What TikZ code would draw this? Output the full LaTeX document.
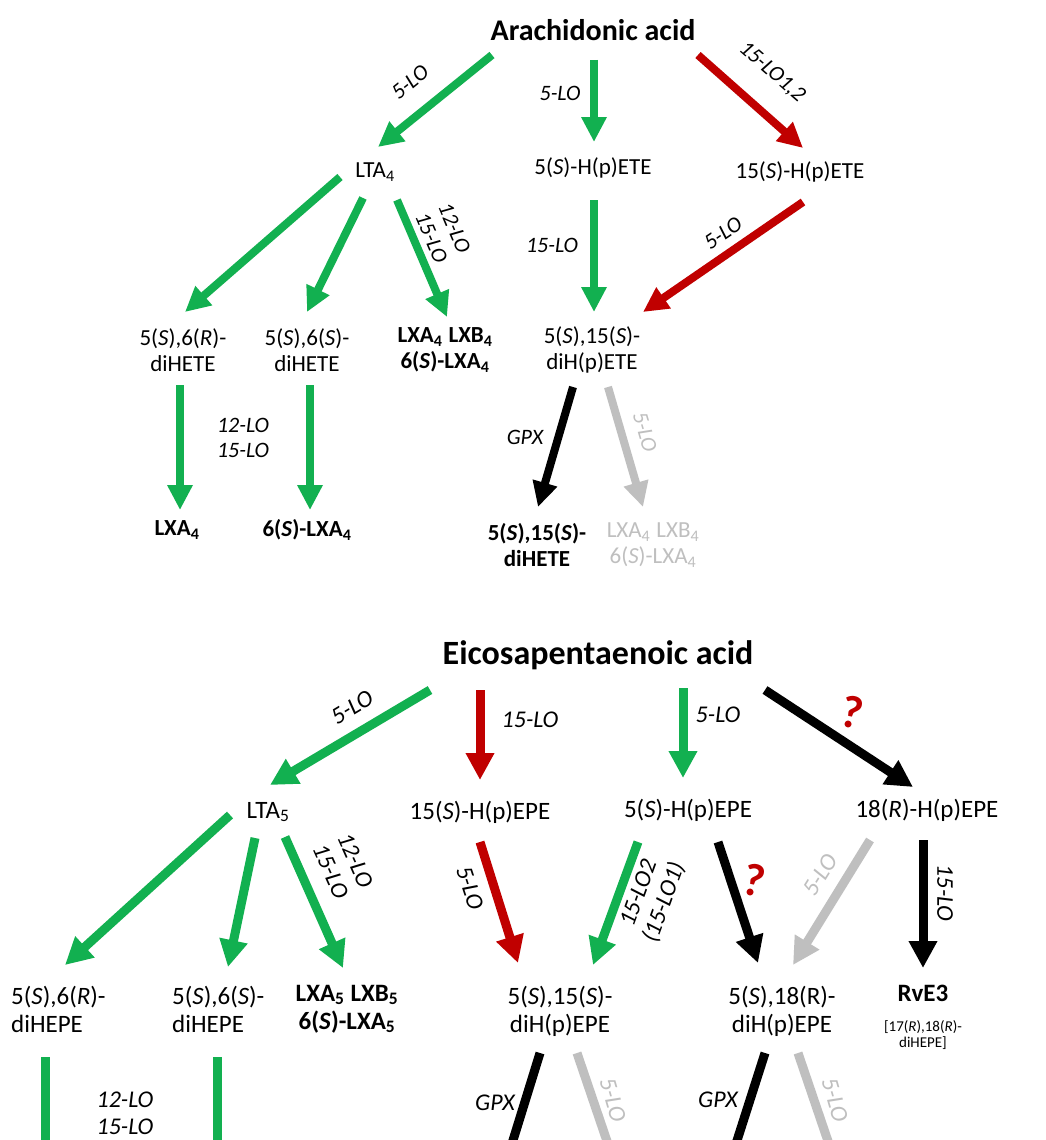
\documentclass[tikz,border=0pt]{standalone}
\usepackage{fontspec}
\setmainfont{Carlito}
\usetikzlibrary{arrows.meta}
\definecolor{lgreen}{RGB}{18,176,80}
\definecolor{lred}{RGB}{192,0,0}
\definecolor{lgray}{RGB}{191,191,191}
\begin{document}
\begin{tikzpicture}[x=1pt,y=-1pt,
  nd/.style={font=\fontsize{23}{26}\selectfont, align=center, inner sep=0pt},
  ndb/.style={font=\fontsize{23}{26}\selectfont\bfseries, align=center, inner sep=0pt},
  nde/.style={font=\fontsize{25}{28}\selectfont, align=center, inner sep=0pt},
  ndeb/.style={font=\fontsize{25}{28}\selectfont\bfseries, align=center, inner sep=0pt},
  lbl/.style={font=\fontsize{22}{25}\selectfont\itshape, align=center, inner sep=0pt},
  lble/.style={font=\fontsize{24}{27}\selectfont\itshape, align=center, inner sep=0pt},
  qm/.style={font=\fontsize{46}{46}\selectfont\bfseries, text=lred, inner sep=0pt},
  arr/.style={line width=8pt, -{Triangle[width=24pt,length=25pt]}},
  arre/.style={line width=9pt, -{Triangle[width=27pt,length=27pt]}},
  ln/.style={line width=9pt},
  grn/.style={draw=lgreen, color=lgreen},
  rd/.style={draw=lred, color=lred},
  blk/.style={draw=black, color=black},
  gry/.style={draw=lgray, color=lgray}]
\path[use as bounding box] (0,0) rectangle (1045,1140);
\clip (0,0) rectangle (1045,1140);
\fill[white] (0,0) rectangle (1045,1140);

% ---------------- top: arachidonic acid ----------------
\node[font=\fontsize{30}{32}\selectfont\bfseries, inner sep=0pt] (aa) at (593,30) {Arachidonic acid};
\node[nd] (lta4) at (375,172) {LTA\textsubscript{4}};
\node[nd] (hpete5) at (593,168) {5(\textit{S})-H(p)ETE};
\node[nd] (hpete15) at (800,172) {15(\textit{S})-H(p)ETE};
\node[nd] (r6) at (183,350) {5(\textit{S}),6(\textit{R})-\\diHETE};
\node[nd] (s6) at (307,350) {5(\textit{S}),6(\textit{S})-\\diHETE};
\node[ndb] (lx4) at (445,350) {LXA\textsubscript{4}\hspace{6pt}LXB\textsubscript{4}\\6(\textit{S})-LXA\textsubscript{4}};
\node[nd] (di515) at (592,350) {5(\textit{S}),15(\textit{S})-\\diH(p)ETE};
\node[ndb] (lxa4) at (177,530) {LXA\textsubscript{4}};
\node[ndb] (slxa4) at (307,530) {6(\textit{S})-LXA\textsubscript{4}};
\node[ndb] (di515h) at (537,545) {5(\textit{S}),15(\textit{S})-\\diHETE};
\node[nd, text=lgray] (lx4g) at (653,545) {LXA\textsubscript{4}\hspace{6pt}LXB\textsubscript{4}\\6(\textit{S})-LXA\textsubscript{4}};

\draw[arr,grn] ([shift={(-101,25)}]aa.center) -- ([shift={(3,-25)}]lta4.center);
\draw[arr,grn] ([shift={(1,30)}]aa.center) -- ([shift={(1,-26)}]hpete5.center);
\draw[arr,rd] ([shift={(105,25)}]aa.center) -- ([shift={(3,-24)}]hpete15.center);
\draw[arr,grn] ([shift={(1,32)}]hpete5.center) -- ([shift={(2,-38)}]di515.center);
\draw[arr,rd] ([shift={(3,30)}]hpete15.center) -- ([shift={(51,-38)}]di515.center);
\draw[arr,grn] ([shift={(-35,5)}]lta4.center) -- ([shift={(2,-38)}]r6.center);
\draw[arr,grn] ([shift={(-12,26)}]lta4.center) -- ([shift={(0,-38)}]s6.center);
\draw[arr,grn] ([shift={(22,28)}]lta4.center) -- ([shift={(2,-33)}]lx4.center);
\draw[arr,grn] ([shift={(-3,35)}]r6.center) -- ([shift={(3,-20)}]lxa4.center);
\draw[arr,grn] ([shift={(3,35)}]s6.center) -- ([shift={(3,-20)}]slxa4.center);
\draw[arr,blk] ([shift={(-19,37)}]di515.center) -- ([shift={(1,-38)}]di515h.center);
\draw[arr,gry] ([shift={(16,37)}]di515.center) -- ([shift={(-10,-38)}]lx4g.center);

\node[lbl, rotate=39] (l1) at (410,82) {5-LO};
\node[lbl] (l2) at (560,93) {5-LO};
\node[lbl, rotate=-41] (l3) at (772,72) {15-LO1,2};
\node[lbl] (l4) at (552,245) {15-LO};
\node[lbl, rotate=34] (l5) at (723,233) {5-LO};
\node[lbl, rotate=-67] (l6) at (443,233) {12-LO\\15-LO};
\node[lbl] (l7) at (243,438) {12-LO\\15-LO};
\node[lbl] (l8) at (525,437) {GPX};
\node[lbl, rotate=-74, text=lgray] (l9) at (645,432) {5-LO};

% ---------------- bottom: eicosapentaenoic acid ----------------
\node[font=\fontsize{34}{36}\selectfont\bfseries, inner sep=0pt] (epa) at (598,655) {Eicosapentaenoic acid};
\node[nde] (lta5) at (268,812) {LTA\textsubscript{5}};
\node[nde] (hpepe15) at (480,812) {15(\textit{S})-H(p)EPE};
\node[nde] (hpepe5) at (688,810) {5(\textit{S})-H(p)EPE};
\node[nde] (hpepe18) at (927,810) {18(\textit{R})-H(p)EPE};
\node[nde, align=left, anchor=west] (r6e) at (11,1009) {5(\textit{S}),6(\textit{R})-\\diHEPE};
\node[nde, align=left, anchor=west] (s6e) at (172,1009) {5(\textit{S}),6(\textit{S})-\\diHEPE};
\node[ndeb] (lx5) at (347,1009) {LXA\textsubscript{5}\hspace{6pt}LXB\textsubscript{5}\\6(\textit{S})-LXA\textsubscript{5}};
\node[nde] (di515e) at (560,1011) {5(\textit{S}),15(\textit{S})-\\diH(p)EPE};
\node[nde] (di518e) at (782,1011) {5(\textit{S}),18(R)-\\diH(p)EPE};
\node[ndeb] (rve3) at (923,993) {RvE3};
\node[font=\fontsize{15}{16}\selectfont, align=center, inner sep=0pt] (rve3s) at (923,1035) {[17(\textit{R}),18(\textit{R})-\\diHEPE]};

\coordinate (e1) at (45,1150);
\coordinate (e2) at (217,1150);
\coordinate (e3) at (510,1150);
\coordinate (e4) at (610,1150);
\coordinate (e5) at (734,1150);
\coordinate (e6) at (831,1150);

\draw[arre,grn] ([shift={(-168,35)}]epa.center) -- ([shift={(2,-27)}]lta5.center);
\draw[arre,rd] ([shift={(-118,35)}]epa.center) -- ([shift={(0,-32)}]hpepe15.center);
\draw[arre,grn] ([shift={(85,33)}]epa.center) -- ([shift={(-5,-32)}]hpepe5.center);
\draw[arre,blk] ([shift={(167,35)}]epa.center) -- ([shift={(-14,-23)}]hpepe18.center);
\draw[arre,grn] ([shift={(-38,3)}]lta5.center) -- ([shift={(54,-44)}]r6e.west);
\draw[arre,grn] ([shift={(-13,26)}]lta5.center) -- ([shift={(56,-42)}]s6e.west);
\draw[arre,grn] ([shift={(17,25)}]lta5.center) -- ([shift={(-4,-41)}]lx5.center);
\draw[arre,rd] ([shift={(0,30)}]hpepe15.center) -- ([shift={(-42,-48)}]di515e.center);
\draw[arre,grn] ([shift={(-50,32)}]hpepe5.center) -- ([shift={(33,-46)}]di515e.center);
\draw[arre,blk] ([shift={(30,32)}]hpepe5.center) -- ([shift={(-24,-48)}]di518e.center);
\draw[arre,gry] ([shift={(-57,30)}]hpepe18.center) -- ([shift={(11,-46)}]di518e.center);
\draw[arre,blk] ([shift={(-4,30)}]hpepe18.center) -- ([shift={(0,-25)}]rve3.center);
\draw[ln,grn] ([shift={(34,48)}]r6e.west) -- (e1);
\draw[ln,grn] ([shift={(45,48)}]s6e.west) -- (e2);
\draw[ln,blk] ([shift={(-20,42)}]di515e.center) -- (e3);
\draw[ln,gry] ([shift={(17,42)}]di515e.center) -- (e4);
\draw[ln,blk] ([shift={(-17,42)}]di518e.center) -- (e5);
\draw[ln,gry] ([shift={(16,42)}]di518e.center) -- (e6);

\node[lble, rotate=31] (m1) at (352,707) {5-LO};
\node[lble] (m2) at (530,720) {15-LO};
\node[lble] (m3) at (718,715) {5-LO};
\node[qm, rotate=-12] (q1) at (852,712) {?};
\node[lble, rotate=-66] (m4) at (343,866) {12-LO\\15-LO};
\node[lble, rotate=-72] (m5) at (470,888) {5-LO};
\node[lble, rotate=70] (m6) at (652,898) {15-LO2\\(15-LO1)};
\node[qm, rotate=-12] (q2) at (754,880) {?};
\node[lble, rotate=58, text=lgray] (m7) at (820,875) {5-LO};
\node[lble, rotate=-90] (m8) at (945,893) {15-LO};
\node[lble] (m9) at (125,1113) {12-LO\\15-LO};
\node[lble] (m10) at (495,1103) {GPX};
\node[lble, rotate=-74, text=lgray] (m11) at (613,1100) {5-LO};
\node[lble] (m12) at (718,1100) {GPX};
\node[lble, rotate=-74, text=lgray] (m13) at (835,1100) {5-LO};
\end{tikzpicture}
\end{document}
